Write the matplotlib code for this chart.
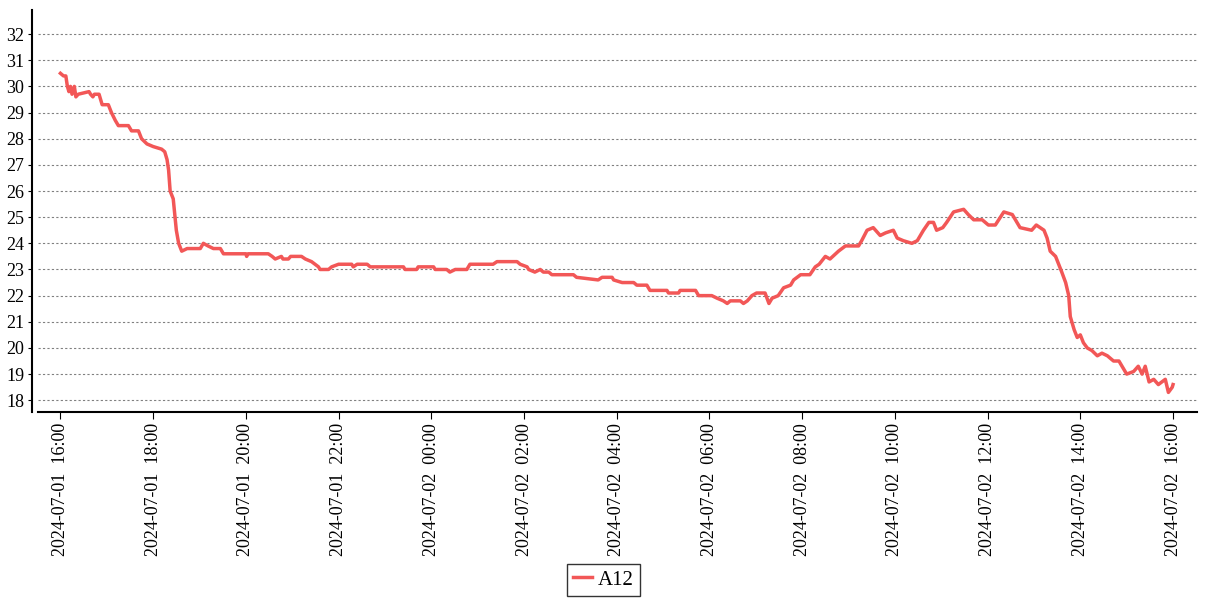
import pandas as pd
import matplotlib
matplotlib.use('Agg')
from matplotlib import pyplot as plt
import matplotlib.dates as mdates

# minutes after 2024-07-01 16:00 and the A12 value
minutes = [0, 4, 7, 9, 11, 13, 15, 18, 20, 23, 37, 39, 42, 44, 50, 54, 62, 66, 71, 75,
           88, 92, 101, 105, 112, 120, 131, 135, 138, 140, 142, 146, 150, 153, 157, 164,
           181, 185, 191, 198, 207, 211, 240, 241, 243, 269, 274, 278, 286, 288, 295, 298,
           312, 317, 325, 334, 336, 347, 351, 360, 377, 379, 384, 397, 401, 444, 446, 461,
           463, 483, 485, 500, 504, 511, 526, 530, 560, 565, 591, 595, 604, 606, 614, 621,
           625, 632, 636, 664, 668, 696, 701, 714, 716, 727, 742, 746, 759, 763, 785, 787,
           800, 802, 822, 824, 826, 843, 850, 858, 863, 867, 880, 884, 889, 895, 901, 912,
           917, 921, 929, 936, 945, 949, 958, 970, 977, 982, 990, 996, 1007, 1016, 1033,
           1037, 1044, 1052, 1061, 1068, 1078, 1083, 1091, 1102, 1109, 1117, 1124, 1130,
           1134, 1142, 1147, 1156, 1169, 1175, 1182, 1193, 1201, 1210, 1221, 1232, 1242,
           1257, 1263, 1273, 1277, 1281, 1288, 1292, 1296, 1301, 1305, 1307, 1312, 1316,
           1320, 1324, 1329, 1335, 1342, 1348, 1355, 1363, 1370, 1376, 1380, 1389, 1395,
           1400, 1404, 1409, 1415, 1421, 1430, 1434, 1439, 1440]
a12 = [30.5, 30.4, 30.4, 30.0, 29.8, 30.0, 29.7, 30.0, 29.6, 29.7, 29.8, 29.7, 29.6, 29.7,
       29.7, 29.3, 29.3, 29.0, 28.7, 28.5, 28.5, 28.3, 28.3, 28.0, 27.8, 27.7, 27.6, 27.5,
       27.2, 26.8, 26.0, 25.7, 24.5, 24.0, 23.7, 23.8, 23.8, 24.0, 23.9, 23.8, 23.8, 23.6,
       23.6, 23.5, 23.6, 23.6, 23.5, 23.4, 23.5, 23.4, 23.4, 23.5, 23.5, 23.4, 23.3, 23.1,
       23.0, 23.0, 23.1, 23.2, 23.2, 23.1, 23.2, 23.2, 23.1, 23.1, 23.0, 23.0, 23.1, 23.1,
       23.0, 23.0, 22.9, 23.0, 23.0, 23.2, 23.2, 23.3, 23.3, 23.2, 23.1, 23.0, 22.9, 23.0,
       22.9, 22.9, 22.8, 22.8, 22.7, 22.6, 22.7, 22.7, 22.6, 22.5, 22.5, 22.4, 22.4, 22.2,
       22.2, 22.1, 22.1, 22.2, 22.2, 22.1, 22.0, 22.0, 21.9, 21.8, 21.7, 21.8, 21.8, 21.7,
       21.8, 22.0, 22.1, 22.1, 21.7, 21.9, 22.0, 22.3, 22.4, 22.6, 22.8, 22.8, 23.1, 23.2,
       23.5, 23.4, 23.7, 23.9, 23.9, 24.1, 24.5, 24.6, 24.3, 24.4, 24.5, 24.2, 24.1, 24.0,
       24.1, 24.5, 24.8, 24.8, 24.5, 24.6, 24.8, 25.2, 25.3, 25.1, 24.9, 24.9, 24.7, 24.7,
       25.2, 25.1, 24.6, 24.5, 24.7, 24.5, 24.2, 23.7, 23.5, 23.2, 22.9, 22.5, 22.0, 21.2,
       20.7, 20.4, 20.5, 20.2, 20.0, 19.9, 19.7, 19.8, 19.7, 19.5, 19.5, 19.2, 19.0, 19.1,
       19.3, 19.0, 19.3, 18.7, 18.8, 18.6, 18.8, 18.3, 18.5, 18.6]
y_ticks = list(range(18, 33))

start = pd.Timestamp('2024-07-01 16:00')
times = start + pd.to_timedelta(minutes, unit='m')

plt.rcParams['font.family'] = ['Liberation Serif', 'DejaVu Serif']

fig = plt.figure(figsize=(12.07, 6), dpi=100)
ax = fig.add_axes([0.0315, 0.3133, 0.9602, 0.67])

ax.plot(times, a12, color='#f25757', linewidth=2.5, label='A12')

ax.set_xlim(start - pd.Timedelta(minutes=29), start + pd.Timedelta(minutes=1471))
ax.set_ylim(17.55, 32.92)
ax.set_yticks(y_ticks)
ax.xaxis.set_major_locator(mdates.HourLocator(byhour=range(0, 24, 2)))
ax.xaxis.set_major_formatter(mdates.DateFormatter('%Y-%m-%d  %H:%M'))
plt.setp(ax.get_xticklabels(), rotation=90)

ax.grid(axis='y', color='gray', linestyle=(0, (2, 2)), linewidth=0.8)
ax.spines['top'].set_visible(False)
ax.spines['right'].set_visible(False)
ax.spines['left'].set_position(('outward', 4))
ax.spines['left'].set_linewidth(1.5)
ax.spines['bottom'].set_linewidth(1.5)
ax.tick_params(axis='y', length=3, labelsize=13, pad=3)
ax.tick_params(axis='x', length=5, labelsize=13, pad=3)

leg = fig.legend(loc='lower center', bbox_to_anchor=(0.5, 0.0), fontsize=15,
                 fancybox=False, edgecolor='black', handlelength=0.9,
                 handletextpad=0.3, borderpad=0.3, borderaxespad=0.2)
leg.get_frame().set_linewidth(1.0)

fig.savefig('out.png', dpi=100)
